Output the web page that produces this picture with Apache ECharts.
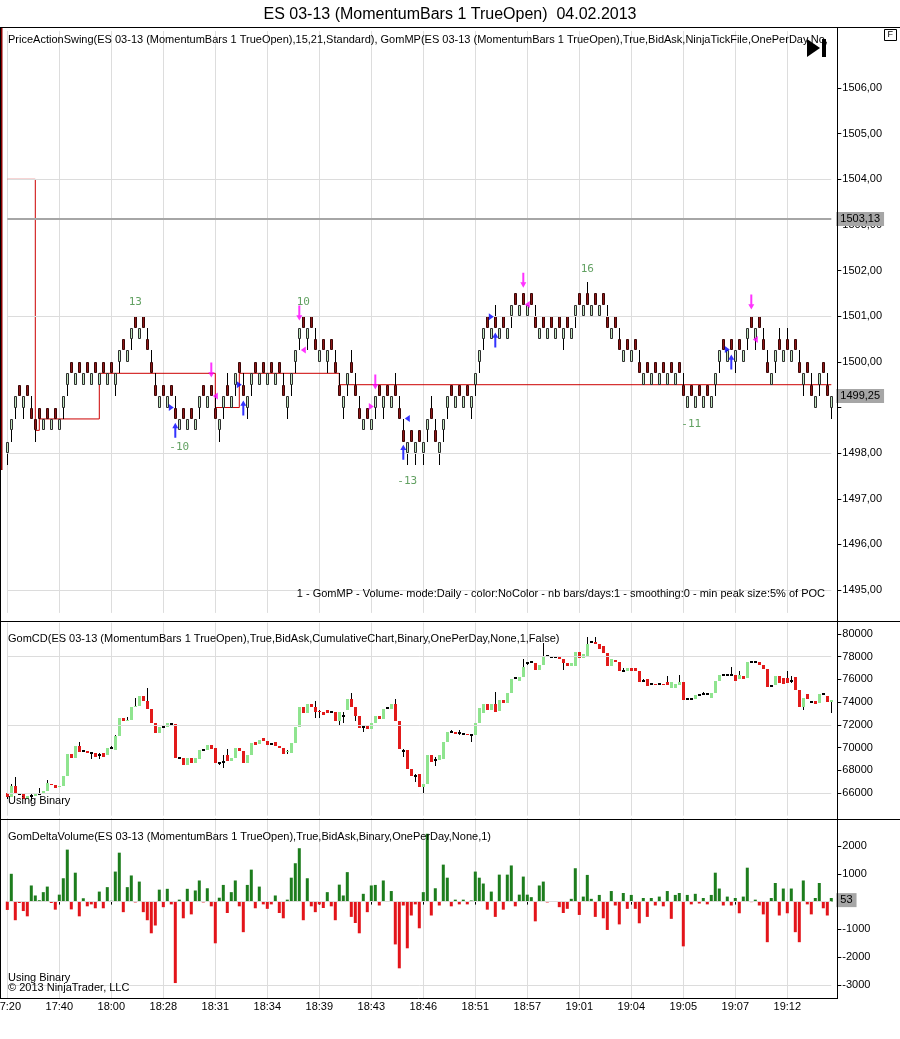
<!DOCTYPE html>
<html><head><meta charset="utf-8">
<script src="https://cdn.jsdelivr.net/npm/echarts@6/dist/echarts.min.js"></script>
<style>html,body{margin:0;padding:0;background:#fff}#c{width:900px;height:1039px}</style>
</head><body><div id="c"></div><script>
// ---------- DATA ----------
const timeLabels = ['17:20','17:40','18:00','18:28','18:31','18:34','18:39','18:43','18:46','18:51','18:57','19:01','19:04','19:05','19:07','19:12'];
const PRICE_TICKS = [1495,1496,1497,1498,1499,1500,1501,1502,1503,1504,1505,1506];
const PRICE_LABELS = [1495,1496,1497,1498,1500,1501,1502,1503,1504,1505,1506]; // 1499 hidden under last-price box
const PRICE_GRID = [1495,1498,1501,1504];
const CD_TICKS = [66000,68000,70000,72000,74000,76000,78000,80000];
const CD_GRID = [66000,72000,78000];
const VOL_TICKS = [-3000,-2000,-1000,0,1000,2000];
const VOL_GRID = [-3000,0];
const BASE = 1498, TICK = 0.25;   // price bars in ticks above 1498.00
const CD_UNIT = 100;              // cumulative delta in hundreds

const PO = [0,2,4,6,4,6,4,3,4,2, 4,2,4,2,4,6,8,6,8,6, 8,6,8,6,8,6,8,6,8,10, 8,10,12,10,12,10,8,6,4,6,
 4,6,4,2,4,2,4,2,4,6, 4,6,4,2,4,6,4,6,8,6, 4,6,8,6,8,6,8,6,8,6, 4,6,8,10,12,10,12,10,8,10,
 8,10,8,6,4,6,8,6,4,2, 4,2,4,6,4,6,4,6,4,2, 0,2,0,2,0,2,4,2,0,2, 4,6,4,6,4,6,4,6,8,10,
 12,10,12,10,12,10,12,14,12,14, 12,14,12,10,12,10,12,10,12,10, 12,10,12,14,12,14,12,14,12,14,
 12,10,12,10,8,10,8,10,8,6, 8,6,8,6,8,6,8,6,8,6, 4,6,4,6,4,6,4,6,8,10, 8,10,8,10,8,10,12,10,12,10,
 8,6,8,10,8,10,8,10,8,6, 8,6,4,6,8,6,4];
const PC = [1,3,5,5,5,5,3,2,3,3, 3,3,3,3,5,7,7,7,7,7, 7,7,7,7,7,7,7,7,9,9, 9,11,11,11,11,9,7,5,5,5,
 5,5,3,3,3,3,3,3,5,5, 5,5,3,3,5,5,5,7,7,5, 5,7,7,7,7,7,7,7,7,5, 5,7,9,11,11,11,11,9,9,9,
 9,9,7,5,5,7,7,5,3,3, 3,3,5,5,5,5,5,5,3,1, 1,1,1,1,1,3,3,1,1,3, 5,5,5,5,5,5,5,7,9,11,
 11,11,11,11,11,11,13,13,13,13, 13,13,11,11,11,11,11,11,11,11, 11,11,13,13,13,13,13,13,13,13,
 11,11,11,9,9,9,9,9,7,7, 7,7,7,7,7,7,7,7,7,5, 5,5,5,5,5,5,5,7,9,9, 9,9,9,9,9,11,11,11,11,9,
 7,7,9,9,9,9,9,9,7,7, 7,5,5,7,7,5,5];
const PL = [-1,1,3,5,3,5,3,1,3,2, 3,2,3,2,3,5,7,6,7,6, 7,6,7,6,7,6,7,5,7,9, 8,9,11,10,11,9,7,5,4,5,
 4,5,3,2,3,2,3,2,3,5, 4,5,3,1,3,5,4,5,7,5, 3,5,7,6,7,6,7,6,7,5, 3,5,7,9,11,9,11,9,8,9,
 7,9,7,5,3,5,7,5,3,2, 3,2,3,5,3,5,4,5,3,1, -1,1,-1,1,-1,1,3,1,-1,1, 3,5,4,5,4,5,3,5,7,9,
 11,10,11,10,11,10,11,13,12,13, 12,13,11,10,11,10,11,10,11,9, 11,10,11,13,12,13,12,13,12,13,
 11,10,11,9,8,9,8,9,7,6, 7,6,7,6,7,6,7,6,7,5, 4,5,4,5,4,5,4,5,7,9, 8,9,7,9,8,9,11,9,11,9,
 7,6,7,9,8,9,8,9,7,5, 7,5,4,5,7,5,3];
const PH = [1,3,5,6,5,6,5,3,4,3, 4,3,4,3,5,7,8,7,8,7, 8,7,8,7,8,7,8,7,9,10, 9,11,12,11,12,11,9,7,5,6,
 5,6,5,3,4,3,4,3,5,6, 5,6,5,3,5,7,5,7,8,7, 5,7,8,7,8,7,8,7,8,7, 5,7,9,11,12,11,12,11,9,10,
 9,10,9,7,5,7,9,7,5,3, 4,3,5,6,5,6,5,7,5,3, 1,2,1,2,1,3,5,3,1,3, 5,6,5,6,5,6,5,7,9,11,
 12,11,13,11,12,11,13,14,13,14, 13,14,13,11,12,11,12,11,12,11, 12,11,13,14,13,15,13,14,13,14,
 13,11,12,11,9,10,9,10,9,7, 8,7,8,7,8,7,8,7,8,7, 5,6,5,6,5,6,5,7,9,10, 9,10,9,10,9,11,12,11,12,11,
 9,7,9,11,9,11,9,10,9,7, 8,7,5,7,8,7,5];

const POC_BARS = [0,7,8,23,52,58,83,206];
const POC_VALS = [1504,1498.5,1498.75,1499.75,1499,1499.75,1499.5,1499.5];

const SWING_X = [32,43,74,100,145,171];
const SWING_Y = [1501.31,1498.13,1501.31,1497.39,1502.03,1498.64];
const SWING_TXT = ['13','-10','10','-13','16','-11'];

const DOWN_ARROWS = [[50.9,1499.82],[72.7,1501.07],[91.9,1499.56],[128.7,1501.79],[185.7,1501.31]];
const UP_ARROWS = [[42.2,1498.5],[58.9,1498.99],[98.9,1498.02],[121.9,1500.48],[181.2,1500.0]];
const BLUE_RIGHT = [[41.1,1499.0],[58,1499.5],[121.3,1500.99],[180.3,1500.27]];
const BLUE_LEFT = [[99.7,1498.76]];
const MAG_LEFT = [[51.5,1499.25],[73.8,1500.26],[129.8,1501.26],[186.7,1500.49]];
const MAG_RIGHT = [[91.2,1499.02]];

const CD_O = [660,656,666,659,659,655,657,657,659,659, 662,668,667,665,666,675,694,691,701,697,
 697,695,695,693,695,693,700,698,710,726, 723,724,736,737,745,741,734,722,713,718,
 718,721,721,691,691,685,691,686,690,698, 698,702,700,686,687,693,688,691,700,697,
 686,693,705,703,708,706,703,705,701,700, 696,695,704,718,736,730,738,736,732,731,
 733,731,731,723,728,733,743,736,728,718, 720,716,722,728,725,735,734,738,723,697,
 698,681,675,677,665,668,693,689,689,690, 705,714,714,713,712,712,711,711,722,730,
 738,733,738,732,742,739,748,761,759,762, 774,775,774,768,773,781,780,780,780,778,
 774,772,772,784,779,781,793,793,791,789, 783,772,777,775,767,767,770,770,767,759,
 760,756,756,756,756,758,752,752,755,758, 743,743,743,746,747,747,744,748,759,764,
 764,764,764,760,763,761,775,775,775,773, 769,754,755,763,761,761,759,762,751,736,
 747,740,741,739,747,745,740];
const CD_C = [656,666,659,659,655,657,657,659,659,662, 669,667,664,666,675,694,691,701,696,697,
 695,695,692,693,692,700,700,710,726,723, 724,736,737,745,741,734,722,713,718,718,
 722,721,691,691,685,691,686,691,698,698, 702,699,686,686,687,688,691,700,697,686,
 693,704,702,707,706,702,703,701,700,694, 697,704,718,736,730,738,736,731,731,729,
 730,731,723,731,728,743,736,728,717,718, 716,722,728,725,734,735,738,723,699,697,
 681,675,675,665,668,693,687,689,693,705, 714,714,712,713,712,711,711,722,735,738,
 733,738,731,742,739,748,760,761,762,771, 774,775,768,773,780,781,780,780,778,774,
 772,774,784,779,782,791,793,791,787,783, 772,778,775,767,767,770,767,767,758,759,
 754,756,755,756,755,755,758,756,758,742, 743,743,746,746,747,747,748,759,764,764,
 764,764,759,764,760,775,775,775,773,769, 753,754,763,757,756,757,759,751,736,744,
 743,740,738,747,747,740,742];
const CD_L = [655,656,659,658,655,655,653,657,659,659, 662,667,664,665,666,675,691,691,696,696,
 695,690,692,690,692,693,699,698,710,723, 723,724,736,737,741,734,722,713,713,717,
 718,720,691,690,685,685,686,686,690,697, 698,699,686,685,682,688,688,691,697,686,
 686,693,702,703,706,702,702,701,700,694, 694,695,704,718,730,730,736,726,726,729,
 730,730,723,720,722,733,736,723,717,714, 716,716,722,725,725,734,734,723,699,692,
 681,675,670,665,660,668,687,684,689,690, 705,713,712,711,711,711,705,711,722,730,
 733,733,731,732,739,739,748,760,759,762, 773,774,768,768,773,780,780,779,778,768,
 772,772,772,779,779,781,792,791,787,783, 772,772,775,767,767,767,767,767,758,758,
 754,755,755,755,755,755,752,752,755,742, 742,742,743,745,746,746,744,748,759,763,
 763,763,759,760,760,761,774,775,773,769, 753,753,755,757,756,757,757,751,736,733,
 743,739,738,739,746,740,730];
const CD_H = [660,668,674,660,659,657,660,659,664,662, 671,668,667,666,675,694,694,701,705,698,
 697,696,695,695,695,700,701,711,726,726, 727,736,744,745,745,752,734,722,718,719,
 722,722,721,692,691,691,691,691,698,699, 702,702,700,687,693,699,691,700,700,697,
 693,704,705,707,708,706,704,705,701,700, 698,704,718,736,736,738,738,741,733,731,
 733,732,731,731,731,743,748,736,728,720, 720,722,728,728,734,736,738,743,723,699,
 698,681,677,677,668,693,693,692,693,705, 714,715,714,715,713,712,712,722,735,738,
 738,738,749,742,742,748,760,762,762,778, 775,776,774,773,792,781,781,780,780,778,
 774,774,784,784,782,797,794,797,791,789, 783,778,777,775,770,770,770,770,767,760,
 760,757,756,757,756,763,758,756,764,758, 744,744,746,747,749,748,748,759,764,765,
 765,771,764,767,763,775,776,776,775,773, 769,755,763,763,761,767,763,762,751,744,
 747,741,741,747,748,745,742];

const VOL = [-300,1000,-670,-50,-340,-530,580,220,50,340, 540,-50,-290,250,840,1870,-280,1040,-530,120,
 -170,-100,-240,360,-240,520,30,1080,1760,-380, 520,940,-30,720,-380,-670,-1140,-860,430,-200,
 460,-100,-2930,70,-600,460,-460,400,760,-30, 480,-170,-1500,140,600,-410,340,760,-170,-1100,
 600,1150,-240,540,-100,-260,-100,220,-410,-600, 70,860,1380,1920,-670,840,-170,-380,-100,-230,
 340,-170,-670,610,220,1060,-550,-770,-1140,280, -380,580,600,-140,760,20,380,-1540,-2400,-140,
 -1680,-500,-100,-960,340,2440,-500,480,-140,1330, 860,-170,70,-100,70,-100,40,1080,860,650,
 -290,360,-550,970,-290,970,1300,-170,250,900, 250,160,-710,580,720,-30,10,10,-200,-410,
 -260,100,1200,-480,180,960,100,-550,240,-600, -1020,380,-140,-820,310,-260,240,-260,-780,130,
 -550,130,-140,180,-170,380,-620,240,310,-1610, 240,-100,280,-70,130,-100,240,1040,470,-140,
 180,-140,130,-420,180,1220,-20,70,-140,-460, -1460,130,670,-500,470,-420,470,-1100,-1460,760,
 -100,-460,130,670,-240,-500,130];

// ---------- BUILD ----------
const N = PO.length;
const categories = PO.map((_, i) => String(i));
const FONT = "'Liberation Sans', Arial, sans-serif";
const GL = 7.3, GR = 900 - (7.3 + (N - 1) * 4);

const priceData = PO.map((o, i) => [i, BASE + o * TICK, BASE + PC[i] * TICK, BASE + PL[i] * TICK, BASE + PH[i] * TICK]);
const cdData = CD_O.map((o, i) => [i, o * CD_UNIT, CD_C[i] * CD_UNIT, CD_L[i] * CD_UNIT, CD_H[i] * CD_UNIT]);
const pocData = POC_BARS.map((b, k) => [b, POC_VALS[k]]);
const swingData = SWING_X.map((x, k) => [x, SWING_Y[k], SWING_TXT[k]]);

const near = (v, arr) => arr.some(a => Math.abs(a - v) < 1e-6);
const fmtPrice = v => near(v, PRICE_LABELS) ? v.toFixed(2).replace('.', ',') : '';

function candleItem(kind) {
  return function (params, api) {
    const i = api.value(0);
    const ov = api.value(1), cv = api.value(2);
    const po = api.coord([i, ov]), pc = api.coord([i, cv]);
    const pl = api.coord([i, api.value(3)]), ph = api.coord([i, api.value(4)]);
    const x = Math.round(po[0]);
    const top = Math.round(Math.min(po[1], pc[1])), bot = Math.round(Math.max(po[1], pc[1]));
    const kids = [{type: 'line', shape: {x1: x + 0.5, y1: Math.round(ph[1]), x2: x + 0.5, y2: Math.round(pl[1])},
      style: {stroke: '#000', lineWidth: 1}}];
    if (kind === 'price') {
      const up = cv > ov;
      kids.push({type: 'rect', shape: {x: x - 0.5, y: top + 0.5, width: 2, height: Math.max(1, bot - top - 1)},
        style: {fill: up ? '#bfe6bf' : '#8e1616', stroke: up ? '#2e2e2e' : '#3a0606', lineWidth: 1}});
    } else {
      if (cv === ov) {
        kids.push({type: 'rect', shape: {x: x - 1, y: top - 1, width: 3, height: 2}, style: {fill: '#000'}});
      } else {
        kids.push({type: 'rect', shape: {x: x - 1, y: top, width: 3, height: Math.max(1, bot - top)},
          style: {fill: cv > ov ? '#8fe48f' : '#e21a1a'}});
      }
    }
    return {type: 'group', children: kids};
  };
}

function xAxisFor(gi, showLabels) {
  return {
    type: 'category', gridIndex: gi, data: categories, boundaryGap: false,
    axisLine: {show: false},
    axisTick: {show: showLabels, interval: 12, length: 3, lineStyle: {color: '#000'}},
    axisLabel: {show: showLabels, interval: 12, margin: 3, fontSize: 11, fontFamily: FONT, color: '#000',
      formatter: (v, idx) => timeLabels[Math.round(idx / 13)] || ''},
    splitLine: {show: true, interval: 12, lineStyle: {color: '#dddddd', width: 1}}
  };
}
function yAxisFor(gi, min, max, interval, ticks, labels, fmt) {
  return {
    type: 'value', gridIndex: gi, position: 'right', offset: 6, min, max, interval, scale: true,
    axisLine: {show: false}, splitLine: {show: false},
    axisTick: {show: true, length: 4, lineStyle: {color: '#000'}, customValues: ticks},
    axisLabel: {margin: 5, fontSize: 11, fontFamily: FONT, color: '#000', customValues: labels, formatter: fmt}
  };
}
const gridLine = v => ({yAxis: v});
const boxLabel = (txt, col) => ({show: true, position: 'end', formatter: txt, backgroundColor: col, color: '#000',
  padding: [2, 4, 1, 4], fontSize: 11, fontFamily: FONT, distance: 5, opacity: 1});
const HIDDEN_LINE = {color: 'rgba(0,0,0,0)', width: 1};
const mlBase = {symbol: 'none', silent: true, animation: false, label: {show: false},
  lineStyle: {color: '#dcdcdc', width: 1, type: 'solid'}};

const markerSeries = (data, path, size, color) => ({
  type: 'scatter', xAxisIndex: 0, yAxisIndex: 0, data, symbol: path, symbolSize: size, z: 6,
  itemStyle: {color}, silent: true
});
const DOWN_P = 'path://M2,0 L4,0 L4,9 L6,9 L3,14 L0,9 L2,9 Z';
const UP_P = 'path://M3,0 L6,5 L4,5 L4,14 L2,14 L2,5 L0,5 Z';
const RIGHT_P = 'path://M0,0 L5,3.5 L0,7 Z';
const LEFT_P = 'path://M5,0 L0,3.5 L5,7 Z';

const txt = (text, left, top, extra) => Object.assign({text, left, top,
  textStyle: Object.assign({fontSize: 11, fontWeight: 'normal', color: '#000', fontFamily: FONT}, extra || {})});

const option = {
  animation: false,
  backgroundColor: '#fff',
  title: [
    txt('ES 03-13 (MomentumBars 1 TrueOpen)  04.02.2013', 'center', 2, {fontSize: 16}),
    txt('PriceActionSwing(ES 03-13 (MomentumBars 1 TrueOpen),15,21,Standard), GomMP(ES 03-13 (MomentumBars 1 TrueOpen),True,BidAsk,NinjaTickFile,OnePerDay,No,', 3, 29,
      {width: 832, overflow: 'truncate', ellipsis: ''}),
    Object.assign(txt('1 - GomMP - Volume- mode:Daily - color:NoColor - nb bars/days:1 - smoothing:0 - min peak size:5% of POC', null, 583), {right: 70}),
    txt('GomCD(ES 03-13 (MomentumBars 1 TrueOpen),True,BidAsk,CumulativeChart,Binary,OnePerDay,None,1,False)', 3, 628),
    txt('Using Binary', 3, 790),
    txt('GomDeltaVolume(ES 03-13 (MomentumBars 1 TrueOpen),True,BidAsk,Binary,OnePerDay,None,1)', 3, 826),
    txt('Using Binary', 3, 967),
    txt('\u00a9 2013 NinjaTrader, LLC', 3, 977)
  ],
  grid: [
    {left: GL, right: GR, top: 31, height: 12.75 * 45.64, outerBoundsMode: 'none'},
    {left: GL, right: GR, top: 622.6, height: 17 * 11.357, outerBoundsMode: 'none'},
    {left: GL, right: GR, top: 818.2, height: 6.5 * 27.8, outerBoundsMode: 'none'}
  ],
  xAxis: [xAxisFor(0, false), xAxisFor(1, false), xAxisFor(2, true)],
  yAxis: [
    yAxisFor(0, 1494.5, 1507.25, 0.25, PRICE_TICKS, PRICE_LABELS, fmtPrice),
    yAxisFor(1, 64000, 81000, 1000, CD_TICKS, CD_TICKS, v => near(v, CD_TICKS) ? String(v) : ''),
    yAxisFor(2, -3500, 3000, 500, VOL_TICKS, VOL_TICKS, v => near(v, VOL_TICKS) ? String(v) : '')
  ],
  series: [
    { // price panel grid lines and price markers
      type: 'line', xAxisIndex: 0, yAxisIndex: 0, data: priceData.map(d => [d[0], d[2]]), symbol: 'none',
      lineStyle: {opacity: 0}, silent: true, z: 0,
      markLine: Object.assign({}, mlBase, {data: PRICE_GRID.map(gridLine).concat([
        {yAxis: 1503.13, lineStyle: {color: '#a6a6a6', width: 2}, label: boxLabel('1503,13', '#a6a6a6')},
        {yAxis: 1499.25, lineStyle: HIDDEN_LINE, label: boxLabel('1499,25', '#a6a6a6')}
      ])})
    },
    { // developing POC
      type: 'line', xAxisIndex: 0, yAxisIndex: 0, data: pocData, step: 'end', symbol: 'none',
      lineStyle: {color: '#cc0000', width: 1}, silent: true, z: 2
    },
    {type: 'custom', xAxisIndex: 0, yAxisIndex: 0, data: priceData, renderItem: candleItem('price'),
      encode: {x: 0, y: [1, 2, 3, 4]}, z: 3, silent: true},
    {type: 'scatter', xAxisIndex: 0, yAxisIndex: 0, data: swingData, symbolSize: 1, z: 5, silent: true,
      itemStyle: {color: 'rgba(0,0,0,0)'},
      label: {show: true, position: 'inside', formatter: p => p.value[2], color: '#3b8a3b', fontSize: 11,
        fontFamily: "'DejaVu Sans Mono', monospace"}},
    markerSeries(DOWN_ARROWS, DOWN_P, [6, 15], '#ff00ff'),
    markerSeries(UP_ARROWS, UP_P, [6, 15], '#0000ff'),
    markerSeries(BLUE_RIGHT, RIGHT_P, [5, 7], '#0000ff'),
    markerSeries(BLUE_LEFT, LEFT_P, [5, 7], '#0000ff'),
    markerSeries(MAG_LEFT, LEFT_P, [5, 7], '#ff00ff'),
    markerSeries(MAG_RIGHT, RIGHT_P, [5, 7], '#ff00ff'),
    { // cum delta grid lines
      type: 'line', xAxisIndex: 1, yAxisIndex: 1, data: cdData.map(d => [d[0], d[2]]), symbol: 'none',
      lineStyle: {opacity: 0}, silent: true, z: 0,
      markLine: Object.assign({}, mlBase, {data: CD_GRID.map(gridLine)})
    },
    {type: 'custom', xAxisIndex: 1, yAxisIndex: 1, data: cdData, renderItem: candleItem('cd'),
      encode: {x: 0, y: [1, 2, 3, 4]}, z: 3, silent: true},
    { // volume grid lines
      type: 'line', xAxisIndex: 2, yAxisIndex: 2, data: VOL.map((v, i) => [i, v]), symbol: 'none',
      lineStyle: {opacity: 0}, silent: true, z: 0,
      markLine: Object.assign({}, mlBase, {data: VOL_GRID.map(gridLine)})
    },
    {type: 'bar', xAxisIndex: 2, yAxisIndex: 2, data: VOL, barWidth: 3, z: 3, silent: true,
      itemStyle: {color: p => p.value >= 0 ? '#1d7d1d' : '#e3141a'},
      markLine: Object.assign({}, mlBase, {data: [
        {yAxis: 53, lineStyle: HIDDEN_LINE, label: boxLabel('53', '#a6a6a6')}]})}
  ],
  graphic: [
    {type: 'rect', shape: {x: 0, y: 28, width: 2.5, height: 442}, style: {fill: '#8b0000'}, z: 10},
    {type: 'line', shape: {x1: 0, y1: 27.5, x2: 900, y2: 27.5}, style: {stroke: '#000', lineWidth: 1}, z: 10},
    {type: 'line', shape: {x1: 0, y1: 621.5, x2: 900, y2: 621.5}, style: {stroke: '#000', lineWidth: 1}, z: 10},
    {type: 'line', shape: {x1: 0, y1: 819.5, x2: 900, y2: 819.5}, style: {stroke: '#000', lineWidth: 1}, z: 10},
    {type: 'line', shape: {x1: 0, y1: 998.5, x2: 837.5, y2: 998.5}, style: {stroke: '#000', lineWidth: 1}, z: 10},
    {type: 'line', shape: {x1: 837.5, y1: 27, x2: 837.5, y2: 999}, style: {stroke: '#000', lineWidth: 1}, z: 10},
    {type: 'line', shape: {x1: 0.5, y1: 27, x2: 0.5, y2: 999}, style: {stroke: '#000', lineWidth: 1}, z: 10},
    {type: 'rect', shape: {x: 884.5, y: 29.5, width: 12, height: 11}, style: {fill: '#fff', stroke: '#000', lineWidth: 1}, z: 10},
    {type: 'text', x: 887.5, y: 30.5, style: {text: 'F', fontSize: 9, fill: '#000', fontFamily: FONT}, z: 11},
    {type: 'polygon', shape: {points: [[807, 39], [807, 57], [820, 48]]}, style: {fill: '#000'}, z: 10},
    {type: 'rect', shape: {x: 822, y: 39, width: 4, height: 18}, style: {fill: '#000'}, z: 10}
  ]
};
const chart = echarts.init(document.getElementById('c'));
chart.setOption(option);
</script></body></html>
